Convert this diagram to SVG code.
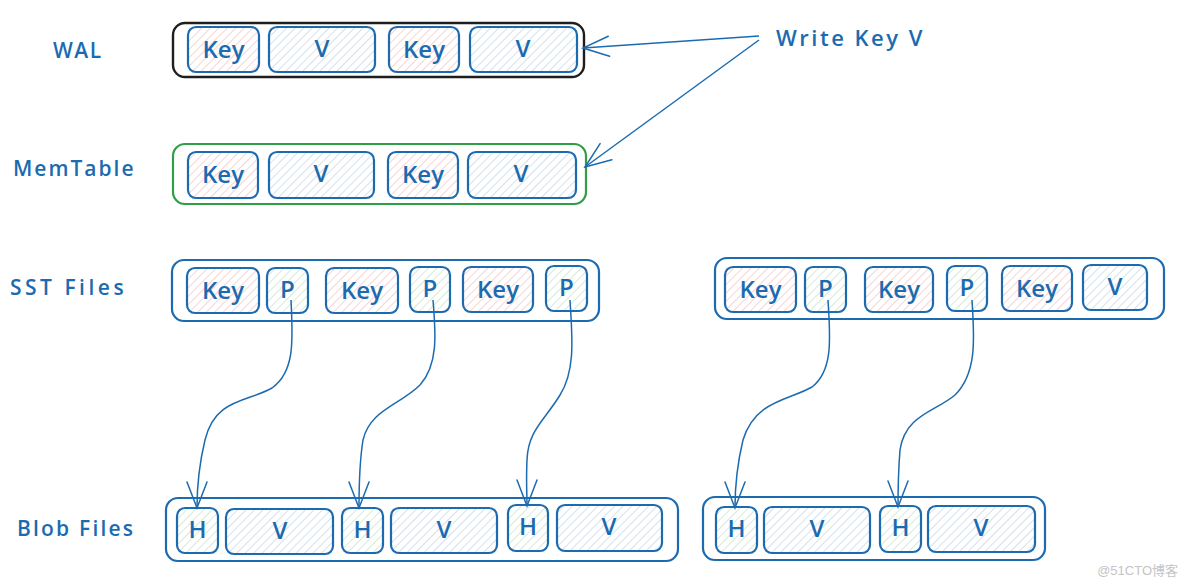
<svg xmlns="http://www.w3.org/2000/svg" width="1184" height="584" viewBox="0 0 1184 584">
<defs>
<pattern id="hk" width="6" height="6" patternUnits="userSpaceOnUse" patternTransform="rotate(45)"><line x1="0" y1="0" x2="0" y2="6" stroke="#eeaaaa" stroke-width="1"/></pattern>
<pattern id="hv" width="6" height="6" patternUnits="userSpaceOnUse" patternTransform="rotate(45)"><line x1="0" y1="0" x2="0" y2="6" stroke="#a9c3d8" stroke-width="1"/></pattern>
<pattern id="hp" width="6" height="6" patternUnits="userSpaceOnUse" patternTransform="rotate(45)"><line x1="0" y1="0" x2="0" y2="6" stroke="#add6ad" stroke-width="1"/></pattern>
<marker id="ah" viewBox="-30 -14 32 28" markerWidth="32" markerHeight="28" refX="0" refY="0" orient="auto" markerUnits="userSpaceOnUse">
<path d="M-26 -10 L0 0 L-26 10" fill="none" stroke="#1c6bb0" stroke-width="1.5" stroke-linecap="round"/>
</marker>
</defs>
<style>
.lbl{font-family:"Open Sans","Liberation Sans",sans-serif;font-size:21px;font-weight:600;fill:#1c6bb0;text-anchor:start}
.t{font-family:"Open Sans","Liberation Sans",sans-serif;font-size:24px;font-weight:600;fill:#1c6bb0;text-anchor:middle}
.k{fill:url(#hk);stroke:#1c6bb0;stroke-width:2.2}
.v{fill:url(#hv);stroke:#1c6bb0;stroke-width:2.2}
.p{fill:url(#hp);stroke:#1c6bb0;stroke-width:2.2}
.ob{fill:none;stroke:#1c6bb0;stroke-width:2.2}
.conn{fill:none;stroke:#1c6bb0;stroke-width:1.5;marker-end:url(#ah)}
</style>
<rect width="1184" height="584" fill="#ffffff"/>

<g id="labels">
<text class="lbl" x="53" y="58" letter-spacing="1.5">WAL</text>
<text class="lbl" x="13" y="176" letter-spacing="2">MemTable</text>
<text class="lbl" x="10" y="295" letter-spacing="3.5">SST Files</text>
<text class="lbl" x="17" y="536" letter-spacing="2.2">Blob Files</text>
<text class="lbl" x="776" y="46" style="font-size:22px" letter-spacing="2.5">Write Key V</text>
</g>

<g id="wal">
<rect x="173" y="23" width="411" height="54" rx="12" fill="none" stroke="#1e1e1e" stroke-width="2.4"/>
<rect class="k" x="188" y="27" width="71" height="45" rx="8"/><text class="t" x="223.5" y="58">Key</text>
<rect class="v" x="269" y="27" width="106" height="45" rx="8"/><text class="t" x="322" y="57">V</text>
<rect class="k" x="389" y="27" width="70" height="45" rx="8"/><text class="t" x="424" y="58">Key</text>
<rect class="v" x="470" y="27" width="107" height="45" rx="8"/><text class="t" x="523" y="57">V</text>
</g>

<g id="memtable">
<rect x="173" y="144" width="413" height="60" rx="12" fill="none" stroke="#2f9e44" stroke-width="2.2"/>
<rect class="k" x="188" y="152" width="70" height="46" rx="8"/><text class="t" x="223" y="183">Key</text>
<rect class="v" x="269" y="152" width="105" height="46" rx="8"/><text class="t" x="321" y="182">V</text>
<rect class="k" x="388" y="152" width="70" height="46" rx="8"/><text class="t" x="423" y="183">Key</text>
<rect class="v" x="468" y="152" width="108" height="46" rx="8"/><text class="t" x="521" y="182">V</text>
</g>

<g id="sst-left">
<rect class="ob" x="172" y="260" width="427" height="61" rx="12"/>
<rect class="k" x="187" y="268" width="72" height="45" rx="8"/><text class="t" x="223" y="299">Key</text>
<rect class="p" x="267" y="268" width="41" height="45" rx="8"/><text class="t" x="287.5" y="298">P</text>
<rect class="k" x="326" y="268" width="72" height="45" rx="8"/><text class="t" x="362" y="299">Key</text>
<rect class="p" x="410" y="267" width="40" height="45" rx="8"/><text class="t" x="430" y="297">P</text>
<rect class="k" x="463" y="267" width="70" height="45" rx="8"/><text class="t" x="498" y="298">Key</text>
<rect class="p" x="546" y="266" width="41" height="45" rx="8"/><text class="t" x="566.5" y="296">P</text>
</g>

<g id="sst-right">
<rect class="ob" x="715" y="258" width="449" height="61" rx="12"/>
<rect class="k" x="725" y="267" width="71" height="45" rx="8"/><text class="t" x="760.5" y="298">Key</text>
<rect class="p" x="805" y="267" width="41" height="45" rx="8"/><text class="t" x="825.5" y="297">P</text>
<rect class="k" x="865" y="267" width="68" height="45" rx="8"/><text class="t" x="899" y="298">Key</text>
<rect class="p" x="947" y="266" width="40" height="45" rx="8"/><text class="t" x="967" y="296">P</text>
<rect class="k" x="1002" y="266" width="70" height="45" rx="8"/><text class="t" x="1037" y="297">Key</text>
<rect class="v" x="1083" y="265" width="64" height="45" rx="8"/><text class="t" x="1115" y="295">V</text>
</g>

<g id="blob-left">
<rect class="ob" x="166" y="498" width="512" height="63" rx="12"/>
<rect class="p" x="177" y="508" width="41" height="45" rx="8"/><text class="t" x="197.5" y="538">H</text>
<rect class="v" x="226" y="509" width="107" height="45" rx="8"/><text class="t" x="280" y="539">V</text>
<rect class="p" x="342" y="508" width="41" height="45" rx="8"/><text class="t" x="362.5" y="538">H</text>
<rect class="v" x="391" y="508" width="106" height="45" rx="8"/><text class="t" x="444" y="538">V</text>
<rect class="p" x="508" y="505" width="40" height="46" rx="8"/><text class="t" x="528" y="535">H</text>
<rect class="v" x="557" y="505" width="105" height="46" rx="8"/><text class="t" x="609" y="535">V</text>
</g>

<g id="blob-right">
<rect class="ob" x="703" y="497" width="342" height="63" rx="12"/>
<rect class="p" x="716" y="507" width="41" height="46" rx="8"/><text class="t" x="736.5" y="537">H</text>
<rect class="v" x="764" y="507" width="106" height="46" rx="8"/><text class="t" x="817" y="537">V</text>
<rect class="p" x="880" y="506" width="41" height="46" rx="8"/><text class="t" x="900.5" y="536">H</text>
<rect class="v" x="928" y="506" width="107" height="46" rx="8"/><text class="t" x="981" y="536">V</text>
</g>

<g id="connectors">
<path class="conn" d="M759 36 L583 48"/>
<path class="conn" d="M759 40 L585 167"/>
<path class="conn" d="M291 300 C293 340 295 372 272 388 C248 402 215 398 205 440 C199 465 197 490 197 508"/>
<path class="conn" d="M433 300 C436 335 438 365 420 385 C400 405 370 410 363 440 C359 465 359 490 359 508"/>
<path class="conn" d="M570 300 C572 335 576 370 560 395 C545 420 528 430 527 460 C526 480 527 495 527 506"/>
<path class="conn" d="M828 300 C830 335 834 370 812 387 C790 400 755 400 743 440 C737 465 735 490 735 508"/>
<path class="conn" d="M972 300 C974 335 978 372 955 395 C935 412 905 415 900 450 C898 475 898 492 898 507"/>
</g>

<text x="1178" y="575" text-anchor="end" font-family="'Liberation Sans','Noto Sans CJK SC',sans-serif" font-size="13" fill="#c4c4c4">@51CTO博客</text>
</svg>
